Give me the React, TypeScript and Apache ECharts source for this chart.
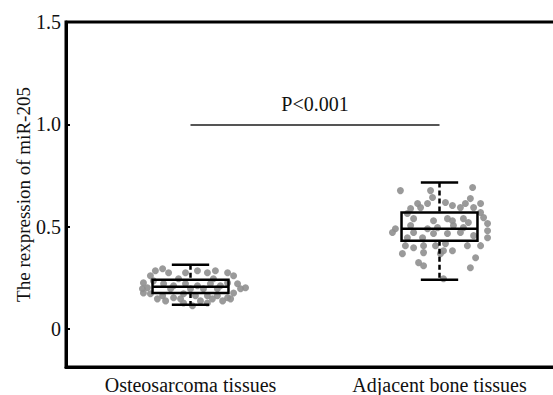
import React, { useEffect, useRef } from "react";
import * as echarts from "echarts";

const categories = ["Osteosarcoma tissues", "Adjacent bone tissues"];
const yTicks = [0, 0.5, 1.0, 1.5];
// [lower whisker, Q1, median, Q3, upper whisker]
const boxStats = [
  [0.118, 0.176, 0.206, 0.24, 0.314],
  [0.24, 0.431, 0.49, 0.569, 0.716],
];
const pValueText = "P<0.001";
const pLineLevel = 1.0;

// [horizontal jitter (category units), expression]
const osteoPoints = [
  [-0.141, 0.284], [-0.112, 0.294], [-0.088, 0.275], [-0.161, 0.26], [-0.02, 0.275],
  [0.028, 0.284], [0.068, 0.275], [0.1, 0.284], [0.149, 0.275], [0.173, 0.26],
  [-0.189, 0.225], [-0.173, 0.201], [0.189, 0.221], [0.201, 0.196], [0.173, 0.176],
  [-0.189, 0.176], [-0.161, 0.172], [-0.112, 0.162], [-0.068, 0.152], [-0.028, 0.172],
  [0.02, 0.162], [0.068, 0.162], [0.108, 0.162], [0.149, 0.152], [-0.133, 0.147],
  [-0.04, 0.147], [0.04, 0.137], [0.088, 0.147], [0.129, 0.137], [0.161, 0.147],
  [-0.028, 0.127], [0.068, 0.127], [-0.1, 0.137], [-0.108, 0.221], [-0.068, 0.211],
  [-0.02, 0.221], [0.028, 0.211], [0.08, 0.221], [0.12, 0.211], [-0.08, 0.196],
  [0.0, 0.196], [0.052, 0.196], [0.108, 0.196], [-0.149, 0.235], [0.149, 0.225],
  [-0.048, 0.245], [0.092, 0.245], [0.008, 0.113], [-0.193, 0.196], [0.221, 0.201],
];
const adjacentPoints = [
  [-0.157, 0.676], [-0.036, 0.676], [0.133, 0.691], [-0.028, 0.642], [0.124, 0.637],
  [-0.088, 0.613], [-0.048, 0.613], [0.024, 0.618], [0.052, 0.603], [0.104, 0.613],
  [0.165, 0.613], [-0.116, 0.588], [-0.076, 0.593], [0.084, 0.593], [0.137, 0.593],
  [0.165, 0.569], [-0.129, 0.564], [0.177, 0.544], [-0.104, 0.539], [-0.024, 0.529],
  [0.032, 0.539], [0.052, 0.529], [0.096, 0.539], [0.116, 0.52], [0.193, 0.515],
  [-0.177, 0.49], [-0.189, 0.471], [-0.116, 0.505], [-0.048, 0.49], [-0.008, 0.495],
  [0.056, 0.505], [0.096, 0.495], [0.193, 0.48], [-0.104, 0.471], [-0.024, 0.466],
  [0.032, 0.466], [0.084, 0.471], [0.137, 0.456], [0.193, 0.446], [-0.129, 0.446],
  [-0.068, 0.446], [-0.137, 0.407], [-0.104, 0.397], [-0.064, 0.407], [-0.016, 0.407],
  [0.024, 0.417], [0.112, 0.407], [0.165, 0.407], [-0.149, 0.368], [-0.064, 0.373],
  [0.016, 0.382], [0.052, 0.382], [0.004, 0.368], [0.145, 0.348], [-0.084, 0.324],
  [-0.064, 0.309], [0.124, 0.299], [0.016, 0.245],
];

const FONT = "'Liberation Serif', 'Times New Roman', serif";
const BOX_W = 0.305;
const CAP_W = 0.15;

export default function App() {
  const ref = useRef<HTMLDivElement>(null);
  useEffect(() => {
    if (!ref.current) return;
    const chart = echarts.init(ref.current, null, { renderer: "svg" });
    const scatterData = [
      ...osteoPoints.map(([dx, v]) => [0 + dx, v]),
      ...adjacentPoints.map(([dx, v]) => [1 + dx, v]),
    ];
    const boxData = boxStats.map((s, i) => [i, ...s]);
    chart.setOption({
      animation: false,
      backgroundColor: "#ffffff",
      grid: {
        left: 66,
        right: -11,
        top: 22,
        bottom: 28,
        containLabel: false,
        outerBoundsMode: "none",
        show: true,
        borderColor: "#000",
        borderWidth: 3,
      },
      xAxis: [
        {
          type: "category",
          data: categories,
          boundaryGap: true,
          axisLine: { onZero: false, lineStyle: { color: "#000", width: 3 } },
          axisTick: { inside: true, alignWithLabel: true, length: 4, lineStyle: { color: "#000", width: 2 } },
          axisLabel: { color: "#111", fontFamily: FONT, fontSize: 20, margin: 8 },
          splitLine: { show: false },
        },
        {
          type: "value",
          min: -0.5,
          max: 1.5,
          show: false,
          axisLine: { onZero: false },
        },
      ],
      yAxis: {
        type: "value",
        min: -0.186,
        max: 1.5,
        minInterval: 0.5,
        maxInterval: 0.5,
        name: "The rexpression of miR-205",
        nameLocation: "middle",
        nameGap: 33,
        nameMoveOverlap: false,
        nameTextStyle: { color: "#111", fontFamily: FONT, fontSize: 19 },
        axisLine: { show: true, onZero: false, lineStyle: { color: "#000", width: 3 } },
        axisTick: { show: true, inside: true, length: 4, lineStyle: { color: "#000", width: 2 } },
        axisLabel: {
          showMinLabel: false,
          color: "#111",
          fontFamily: FONT,
          fontSize: 20,
          margin: 5,
          formatter: (v: number) => {
            const t = yTicks.find((k) => Math.abs(k - v) < 1e-6);
            if (t === undefined) return "";
            return t === 0 ? "0" : t.toFixed(1);
          },
        },
        splitLine: { show: false },
      },
      series: [
        {
          type: "scatter",
          xAxisIndex: 1,
          data: scatterData,
          symbolSize: 7,
          itemStyle: { color: "#8f8f8f", opacity: 0.9 },
          z: 2,
        },
        {
          type: "custom",
          xAxisIndex: 1,
          data: boxData,
          z: 3,
          renderItem: (params: any, api: any) => {
            const i = api.value(0);
            const lo = api.coord([i, api.value(1)]);
            const q1 = api.coord([i, api.value(2)]);
            const md = api.coord([i, api.value(3)]);
            const q3 = api.coord([i, api.value(4)]);
            const hi = api.coord([i, api.value(5)]);
            const cx = lo[0];
            const hw = api.size([BOX_W, 0])[0] / 2;
            const cw = api.size([CAP_W, 0])[0] / 2;
            const st = { stroke: "#000", lineWidth: 2.5, fill: "none" };
            const dash = { stroke: "#000", lineWidth: 2.5, lineDash: [5, 3] };
            return {
              type: "group",
              children: [
                { type: "line", shape: { x1: cx, y1: hi[1], x2: cx, y2: q3[1] }, style: dash },
                { type: "line", shape: { x1: cx, y1: q1[1], x2: cx, y2: lo[1] }, style: dash },
                { type: "line", shape: { x1: cx - cw, y1: hi[1], x2: cx + cw, y2: hi[1] }, style: st },
                { type: "line", shape: { x1: cx - cw, y1: lo[1], x2: cx + cw, y2: lo[1] }, style: st },
                {
                  type: "rect",
                  shape: { x: cx - hw, y: q3[1], width: hw * 2, height: q1[1] - q3[1] },
                  style: st,
                },
                { type: "line", shape: { x1: cx - hw, y1: md[1], x2: cx + hw, y2: md[1] }, style: st },
              ],
            };
          },
        },
        {
          type: "line",
          xAxisIndex: 1,
          data: [],
          markLine: {
            silent: true,
            symbol: "none",
            lineStyle: { color: "#555", width: 2, type: "solid" },
            label: {
              show: true,
              position: "middle",
              formatter: pValueText,
              color: "#111",
              fontFamily: FONT,
              fontSize: 20,
              distance: 10,
            },
            data: [[{ coord: [0, pLineLevel] }, { coord: [1, pLineLevel] }]],
          },
        },
      ],
    });
    return () => chart.dispose();
  }, []);
  return (
    <div
      ref={ref}
      style={{ position: "absolute", left: 0, top: 0, width: 553, height: 395 }}
    />
  );
}
